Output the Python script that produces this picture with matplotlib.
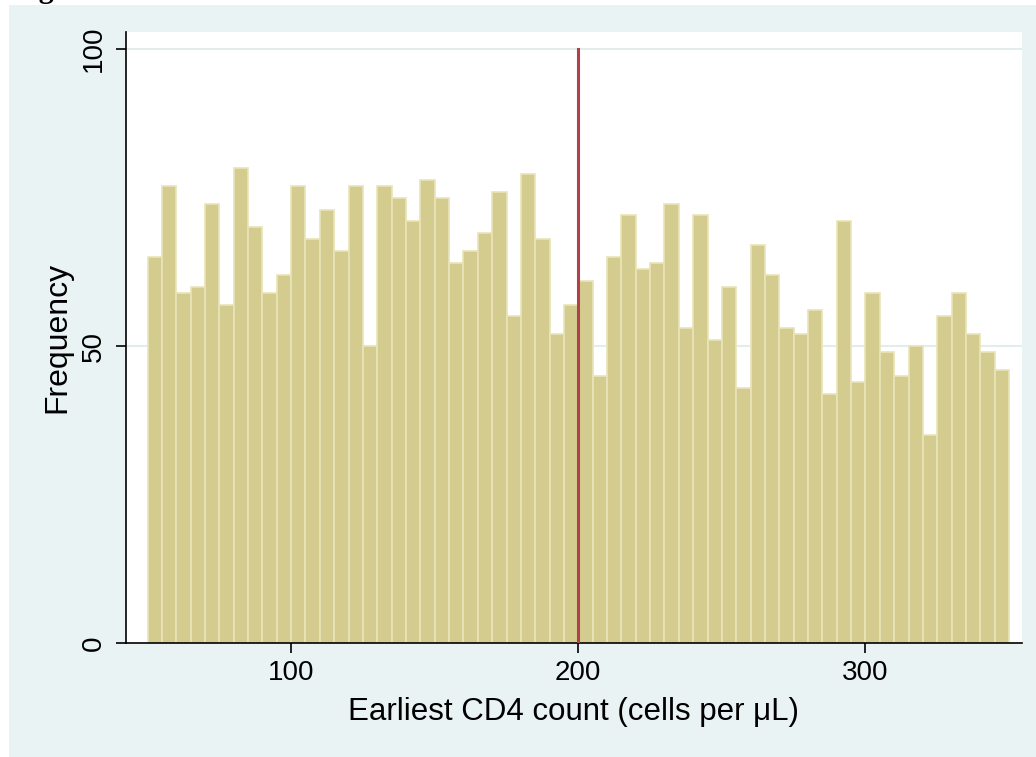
import matplotlib
matplotlib.use("Agg")
import matplotlib.pyplot as plt
from matplotlib.patches import Rectangle
import numpy as np

# Histogram of earliest CD4 counts, bins of width 5 from 50 to 350
bin_edges = np.arange(50, 355, 5)
counts = [65, 77, 59, 60, 74, 57, 80, 70, 59, 62,
          77, 68, 73, 66, 77, 50, 77, 75, 71, 78,
          75, 64, 66, 69, 76, 55, 79, 68, 52, 57,
          61, 45, 65, 72, 63, 64, 74, 53, 72, 51,
          60, 43, 67, 62, 53, 52, 56, 42, 71, 44,
          59, 49, 45, 50, 35, 55, 59, 52, 49, 46]
cutoff = 200
xticks = [100, 200, 300]
yticks = [0, 50, 100]

plt.rcParams['font.family'] = ['Liberation Sans', 'DejaVu Sans']

W, H = 1036, 757
fig = plt.figure(figsize=(W / 100, H / 100), dpi=100)
fig.patch.set_facecolor("white")

# Stata-like light background panel (behind the axes)
fig.patches.append(Rectangle((9 / W, 0), 1 - 9 / W, 1 - 5 / H,
                             transform=fig.transFigure, facecolor="#EAF3F3",
                             edgecolor="none", zorder=-10))

# cropped caption remnant at the very top (cut off in the original too)
fig.text(12 / W, 1 + 2.5 / H, "Figure", fontsize=21.6, fontweight="bold",
         family="Liberation Serif", va="baseline", ha="left")

ax = fig.add_axes([126 / W, (H - 643) / H, (1022 - 126) / W, (643 - 32) / H])
ax.set_facecolor("white")

# grid lines behind bars
for yv in yticks[1:]:
    ax.axhline(yv, color="#E4EDEE", lw=1.5, zorder=0)

ax.bar(bin_edges[:-1], counts, width=5, align="edge", color="#D4CC8F",
       edgecolor="#E9E4B8", linewidth=1.2, zorder=2)

ax.axvline(cutoff, ymin=0, ymax=100 / 102.9, color="#B2404A", lw=2.2, zorder=3)

ax.set_xlim(42.5, 354.5)
ax.set_ylim(0, 102.9)

ax.set_xticks(xticks)
ax.set_yticks(yticks)
ax.tick_params(axis="both", length=7, width=1.2, labelsize=20, color="black")
ax.tick_params(axis="x", pad=5)
ax.tick_params(axis="y", pad=7)
for lab in ax.get_yticklabels():
    lab.set_rotation(90)
    lab.set_va("center")

for s in ["top", "right"]:
    ax.spines[s].set_visible(False)
for s in ["left", "bottom"]:
    ax.spines[s].set_linewidth(1.2)

ax.set_xlabel("Earliest CD4 count (cells per μL)", fontsize=22.5, labelpad=8)
ax.set_ylabel("Frequency", fontsize=23, labelpad=6)

fig.savefig("out.png", dpi=100, facecolor=fig.get_facecolor())
